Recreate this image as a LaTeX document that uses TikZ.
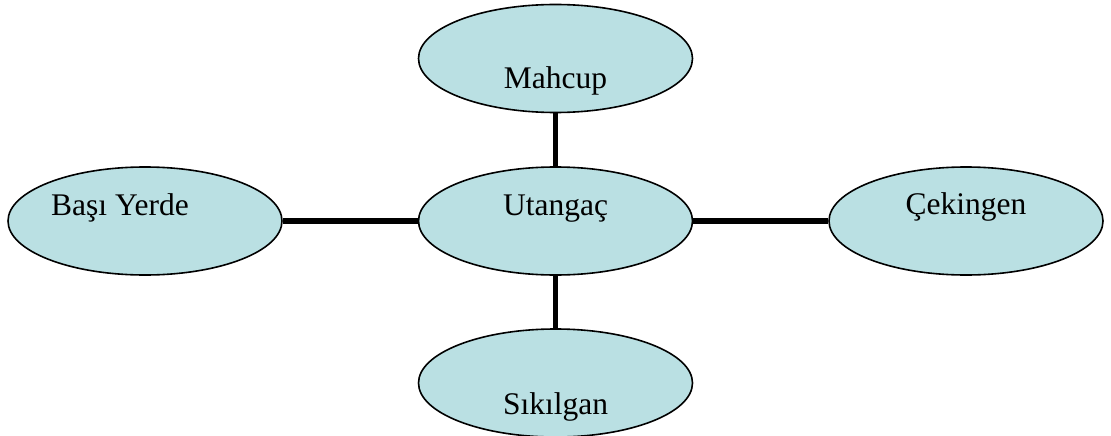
\documentclass[tikz,border=0pt]{standalone}
\usepackage{fontspec}
\setmainfont{Liberation Serif}
\usetikzlibrary{shapes.geometric}
\definecolor{bubblefill}{RGB}{186,224,227}
\begin{document}
\begin{tikzpicture}[x=1pt,y=-1pt,
	bubble/.style={ellipse, draw=black, line width=1.6pt, fill=bubblefill,
		minimum width=274pt, minimum height=108pt, inner sep=0pt},
	word/.style={text height=21.2pt, text depth=6.7pt, font=\fontsize{31.5}{37}\selectfont},
	link/.style={line width=5.5pt}]
	\useasboundingbox (0,0) rectangle (1111,436);
	\node (Ma) at (555.5,  58.5)	[bubble, label={[word, yshift=-23pt]center:Mahcup}]	{};
	\node (Ut) at (555.5, 221)	[bubble, label={[word, yshift=12.5pt]center:Utangaç}]	{};
	\node (Ba) at (145,   221)	[bubble, label={[word, xshift=-25pt, yshift=12.5pt]center:Başı Yerde}]	{};
	\node (Ce) at (966,   221)	[bubble, label={[word, yshift=13.5pt]center:Çekingen}]	{};
	\node (Si) at (555.5, 383)	[bubble, label={[word, yshift=-24pt]center:Sıkılgan}]	{};
	\draw[link] (Ut) -- (Ma);
	\draw[link] (Ut) -- (Si);
	\draw[link] (Ut) -- (Ba);
	\draw[link] (Ut) -- (Ce);
\end{tikzpicture}
\end{document}
